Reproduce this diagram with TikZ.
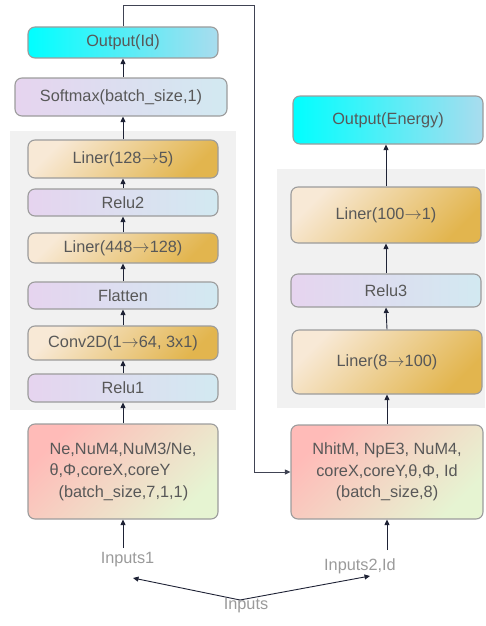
\documentclass[tikz,border=0pt]{standalone}
\usepackage{fontspec}
\setmainfont{Liberation Sans}
\usetikzlibrary{arrows.meta}
\definecolor{txt}{HTML}{585858}
\definecolor{lbl}{HTML}{9A9A9A}
\definecolor{bord}{HTML}{9C9C9C}
\definecolor{arrc}{HTML}{1E2235}
\definecolor{panel}{HTML}{F1F1F1}
\definecolor{cyanA}{HTML}{00FFFF}
\definecolor{cyanB}{HTML}{A9DCEE}
\definecolor{lavA}{HTML}{E6D4EF}
\definecolor{lavB}{HTML}{D2E9F1}
\definecolor{linA}{HTML}{F8E9D6}
\definecolor{linB}{HTML}{E2B54E}
\definecolor{inA}{HTML}{FFBBB8}
\definecolor{inM}{HTML}{F5E4CE}
\definecolor{inB}{HTML}{E6F4D2}
\newcommand{\myarrow}{\ensuremath{\rightarrow}}
\tikzset{
  box/.style={draw=bord, line width=1.1pt, rounded corners=7pt, text=txt,
    font=\fontsize{16.3}{21.5}\selectfont, align=center, inner sep=0pt},
  outbox/.style={box, left color=cyanA, right color=cyanB},
  actbox/.style={box, left color=lavA, right color=lavB},
  linbox/.style={box, top color=linA, bottom color=linB, shading angle=45},
  inbox/.style={box, top color=inA, middle color=inM, bottom color=inB, shading angle=45},
  arr/.style={draw=arrc, line width=0.9pt, -{Triangle[length=5.5pt,width=5pt]}},
  conn/.style={draw=arrc!85, line width=0.9pt},
  lab/.style={text=lbl, font=\fontsize{16.3}{18}\selectfont, inner sep=0pt}
}
\begin{document}
\begin{tikzpicture}[x=1pt,y=-1pt]
\useasboundingbox (0,0) rectangle (485,626);
% panels
\fill[panel] (10,131) rectangle (236,410);
\fill[panel] (277,169) rectangle (485,408);
% left column
\node[outbox, minimum width=190pt, minimum height=31pt] (outid) at (123,42.5) {Output(Id)};
\node[actbox, minimum width=212pt, minimum height=38pt] (soft) at (121,97) {Softmax(batch\_size,1)};
\node[linbox, minimum width=190pt, minimum height=38pt] (lin1) at (123,159) {Liner(128\myarrow5)};
\node[actbox, minimum width=190pt, minimum height=27pt] (relu2) at (123,202.5) {Relu2};
\node[linbox, minimum width=190pt, minimum height=30pt] (lin2) at (123,248) {Liner(448\myarrow128)};
\node[actbox, minimum width=190pt, minimum height=27pt] (flat) at (123,295.5) {Flatten};
\node[linbox, minimum width=190pt, minimum height=34pt] (conv) at (123,343) {Conv2D(1\myarrow64, 3x1)};
\node[actbox, minimum width=190pt, minimum height=28pt] (relu1) at (123,388) {Relu1};
\node[inbox, minimum width=190pt, minimum height=95pt, align=left] (in1) at (123,471.5)
  {Ne,NuM4,NuM3/Ne,\\ θ,Φ,coreX,coreY\\ \hspace*{9pt}(batch\_size,7,1,1)};
% right column
\node[outbox, minimum width=190pt, minimum height=48pt] (oute) at (388,120) {Output(Energy)};
\node[linbox, minimum width=190pt, minimum height=56pt] (lin3) at (386,215) {Liner(100\myarrow1)};
\node[actbox, minimum width=190pt, minimum height=33pt] (relu3) at (386,290.5) {Relu3};
\node[linbox, minimum width=190pt, minimum height=64pt] (lin4) at (387,362) {Liner(8\myarrow100)};
\node[inbox, minimum width=192pt, minimum height=94pt] (in2) at (387,472)
  {NhitM, NpE3, NuM4,\\ coreX,coreY,θ,Φ, Id\\ (batch\_size,8)};
% labels
\node[lab] (i1) at (127.5,560) {Inputs1};
\node[lab] (i2) at (360,566) {Inputs2,Id};
\node[lab] (inp) at (246,606) {Inputs};
\coordinate (split) at (240,600);
\coordinate (t1) at (133,578);
\coordinate (t2) at (370,576);
\coordinate (s1) at (123,548);
\coordinate (s2) at (387,550);
% arrows left
\draw[arr] (s1) -- (in1.south);
\draw[arr] (in1.north) -- (relu1.south);
\draw[arr] (relu1.north) -- (conv.south);
\draw[arr] (conv.north) -- (flat.south);
\draw[arr] (flat.north) -- (lin2.south);
\draw[arr] (lin2.north) -- (relu2.south);
\draw[arr] (relu2.north) -- (lin1.south);
\draw[arr] (lin1.north) -- (soft.south -| lin1.north);
\draw[arr] (soft.north -| outid.south) -- (outid.south);
% arrows right
\draw[arr] (s2) -- (in2.south);
\draw[arr] (in2.north) -- (lin4.south);
\draw[arr] (lin4.north) -- (relu3.south);
\draw[arr] (relu3.north) -- (lin3.south);
\draw[arr] (lin3.north) -- (oute.south -| lin3.north);
% inputs split
\draw[arr] (split) -- (t1);
\draw[arr] (split) -- (t2);
% feedback connector
\draw[conn, -{Triangle[length=5.5pt,width=5pt]}] (outid.north) |- (254,5) |- (in2.west);
\end{tikzpicture}
\end{document}
